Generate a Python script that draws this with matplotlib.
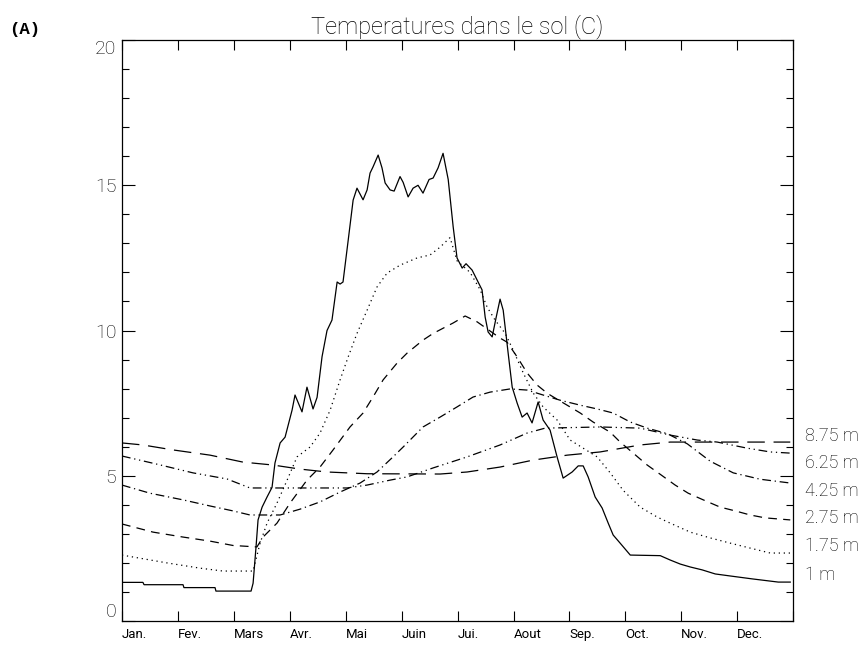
import matplotlib
matplotlib.use("Agg")
import matplotlib.pyplot as plt
from matplotlib.ticker import MultipleLocator

# day of year / temperature (C)
d_1m = [0, 11.4, 12, 33.2, 33.7, 50.6, 51.1, 70.2, 71.3, 72.9, 74, 76.2, 78.9, 81.6, 83.2, 86,
        88.7, 92.5, 94.1, 97.9, 100.6, 103.9, 106.1, 108.8, 111.5, 114.2, 117, 118.6, 120.2, 123,
        125.7, 127.8, 131.1, 133.3, 134.9, 136.5, 139.3, 141.4, 143.1, 145.8, 148, 151.2, 152.9,
        155.6, 158.3, 161, 163.7, 167, 169.2, 171.9, 174.6, 177.4, 180.1, 182.2, 185, 187.1,
        190.4, 193.1, 195.8, 197.5, 199.1, 201.3, 203.5, 205.6, 207.3, 210, 212.2, 214.9, 217.6,
        220.3, 223, 226.3, 229, 232.8, 236.6, 239.9, 244.8, 248.1, 250.8, 253.5, 257.3, 261.1,
        264.4, 267.1, 270.9, 276.4, 292.7, 298.1, 303.6, 309, 315.5, 322.6, 330.8, 342.7, 356.9,
        363.4]
t_1m = [1.33, 1.33, 1.25, 1.25, 1.15, 1.15, 1.03, 1.03, 1.3, 2.55, 3.48, 3.92, 4.27, 4.6, 5.44, 6.13,
        6.33, 7.26, 7.78, 7.2, 8.05, 7.3, 7.7, 9.1, 10.0, 10.36, 11.67, 11.6, 11.67, 13.1,
        14.49, 14.9, 14.5, 14.84, 15.42, 15.63, 16.04, 15.6, 15.08, 14.84, 14.8, 15.3, 15.1,
        14.6, 14.9, 15.0, 14.73, 15.2, 15.25, 15.6, 16.1, 15.2, 13.57, 12.5, 12.15, 12.3,
        12.08, 11.74, 11.4, 10.46, 9.95, 9.78, 10.46, 11.08, 10.7, 9.22, 8.05, 7.5, 7.02,
        7.16, 6.82, 7.54, 6.92, 6.57, 5.65, 4.92, 5.13, 5.34, 5.34, 4.96, 4.27, 3.89,
        3.37, 2.96, 2.68, 2.27, 2.25, 2.1, 1.96, 1.86, 1.76, 1.62, 1.55, 1.45, 1.34,
        1.34]

d_175 = [0, 24.5, 42.4, 54.9, 71.3, 72.4, 75.1, 78.9, 84.3, 89.8, 95.2, 102.3, 107.7, 113.2, 118.6,
         123, 127.8, 133.3, 138.7, 144.2, 151.2, 160.5, 167.5, 173, 178.4, 182.2, 189.3, 194.8,
         198.6, 202.9, 208.4, 212.7, 218.2, 223.6, 229, 236.6, 243.7, 258.4, 265.5, 272.5, 281.8,
         291, 298.1, 309, 319.9, 330.8, 341.6, 352.5, 363.4]
t_175 = [2.27, 2.0, 1.82, 1.72, 1.72, 2.0, 2.68, 3.37, 4.06, 4.85, 5.65, 5.99, 6.47, 7.26, 8.3,
         9.09, 9.9, 10.7, 11.5, 11.98, 12.25, 12.5, 12.6, 12.87, 13.2, 12.4, 12.0, 11.4,
         10.8, 10.36, 9.9, 9.33, 8.54, 7.85, 7.37, 6.92, 6.23, 5.65, 5.1, 4.5, 3.92,
         3.58, 3.37, 3.06, 2.86, 2.68, 2.51, 2.34, 2.34]

d_275 = [0, 16.9, 33.2, 47.9, 60.4, 73.4, 76.7, 84.3, 91.4, 100.6, 107.7, 114.8, 124, 131.1, 136.5,
         142, 149.6, 155, 163.7, 169.2, 180.1, 186.6, 193.1, 205.6, 209.4, 214.9, 220.3, 225.8,
         230.1, 232.8, 249.2, 256.2, 265.5, 270.9, 278, 285.6, 292.7, 300.8, 307.9, 316.1, 325.3,
         333.5, 341.6, 349.8, 363.4]
t_275 = [3.34, 3.06, 2.89, 2.75, 2.6, 2.55, 2.89, 3.37, 4.06, 4.85, 5.3, 5.89, 6.68, 7.16, 7.71,
         8.3, 8.88, 9.22, 9.67, 9.9, 10.26, 10.5, 10.3, 9.74, 9.6, 9.09, 8.54, 8.12,
         7.9, 7.78, 7.16, 6.85, 6.5, 6.16, 5.78, 5.37, 5.05, 4.68, 4.4, 4.17, 3.92,
         3.79, 3.65, 3.55, 3.48]

d_425 = [0, 15.2, 33.2, 47.9, 60.4, 69.6, 86, 96.8, 107.7, 118.6, 129.5, 138.7, 147.4, 152.9, 163.7,
         173, 182.2, 190.9, 200.2, 211.1, 220.3, 229, 238.3, 249.2, 258.4, 267.1, 276.4, 285.6,
         296.5, 307.4, 319.9, 332.4, 347.1, 363.4]
t_425 = [4.68, 4.4, 4.17, 3.96, 3.79, 3.65, 3.65, 3.85, 4.1, 4.44, 4.75, 5.13, 5.65, 5.99, 6.68,
         7.02, 7.37, 7.71, 7.88, 7.99, 7.95, 7.78, 7.6, 7.43, 7.3, 7.16, 6.85, 6.64,
         6.45, 6.1, 5.5, 5.1, 4.88, 4.75]

d_625 = [0, 19, 38.6, 57.1, 69.6, 96.8, 122.4, 133.3, 145.8, 155, 169.2, 187.7, 205.6, 220.3, 230.1,
         260, 281.8, 298.1, 312.8, 323.7, 340, 352.5, 363.4]
t_625 = [5.68, 5.4, 5.1, 4.89, 4.58, 4.58, 4.58, 4.68, 4.85, 4.96, 5.27, 5.65, 6.06, 6.47, 6.64,
         6.68, 6.64, 6.4, 6.23, 6.16, 5.95, 5.82, 5.78]

d_875 = [0, 11.4, 27.7, 47.9, 65.8, 82.1, 96.8, 111.5, 133.3, 173, 187.7, 205.6, 223.6, 242.1, 260,
         281.8, 298.1, 363.4]
t_875 = [6.13, 6.06, 5.89, 5.71, 5.47, 5.37, 5.23, 5.13, 5.07, 5.06, 5.13, 5.3, 5.54, 5.71, 5.82,
         6.06, 6.16, 6.16]

months = ["Jan.", "Fev.", "Mars", "Avr.", "Mai", "Juin", "Jui.", "Aout", "Sep.", "Oct.", "Nov.", "Dec."]
depth_labels = ["8.75 m", "6.25 m", "4.25 m", "2.75 m", "1.75 m", "1 m"]
label_y = [6.37, 5.44, 4.47, 3.55, 2.58, 1.58]

# thin font, closer to the IDL vector font
thin = dict(family=["Roboto", "DejaVu Sans"], weight="light", color="black")
small = dict(family=["Roboto", "DejaVu Sans"], weight="normal", color="black")

fig = plt.figure(figsize=(8.65, 6.5), dpi=100)
ax = fig.add_axes([0.141, 0.0446, 0.776, 0.8938])

lw = 0.9
ax.plot(d_1m, t_1m, color="black", lw=lw, ls="-")
ax.plot(d_175, t_175, color="black", lw=lw, ls=(0, (1, 3)))
ax.plot(d_275, t_275, color="black", lw=lw, ls=(0, (7, 5)))
ax.plot(d_425, t_425, color="black", lw=lw, ls=(0, (7, 3, 1, 3)))
ax.plot(d_625, t_625, color="black", lw=lw, ls=(0, (7, 3, 1, 3, 1, 3)))
ax.plot(d_875, t_875, color="black", lw=lw, ls=(0, (14, 7)))

ax.set_xlim(0, 365)
ax.set_ylim(0, 20)

mpos = [365 / 12 * k for k in range(12)]
ax.set_xticks(mpos + [365])
ax.set_xticklabels(months + [""], fontsize=9.5, **small)
for lab in ax.get_xticklabels():
    lab.set_ha("left")

ax.set_yticks([0, 5, 10, 15, 20])
ax.set_yticklabels(["0", "5", "10", "15", "20"], fontsize=14, **thin)
ax.yaxis.set_minor_locator(MultipleLocator(1))
ylabs = ax.get_yticklabels()
ylabs[0].set_va("bottom")
ylabs[-1].set_va("top")

ax.tick_params(axis="x", which="major", direction="in", length=7, width=0.8,
               top=True, bottom=True, pad=5)
ax.tick_params(axis="y", which="major", direction="in", length=9.5, width=0.8,
               left=True, right=True, pad=4)
ax.tick_params(axis="y", which="minor", direction="in", length=5, width=0.8,
               left=True, right=True)
for s in ax.spines.values():
    s.set_linewidth(0.9)

for txt, yv in zip(depth_labels, label_y):
    ax.text(1.018, yv, txt, transform=ax.get_yaxis_transform(), fontsize=13,
            va="center", ha="left", **thin)

ax.set_title("Temperatures dans le sol (C)", fontsize=17, pad=5, **thin)
fig.text(0.01, 0.955, "(A)", fontsize=12.5, family=["Liberation Mono", "DejaVu Sans Mono"],
         weight="bold", va="center", ha="left")

fig.savefig("out.png", dpi=100)
